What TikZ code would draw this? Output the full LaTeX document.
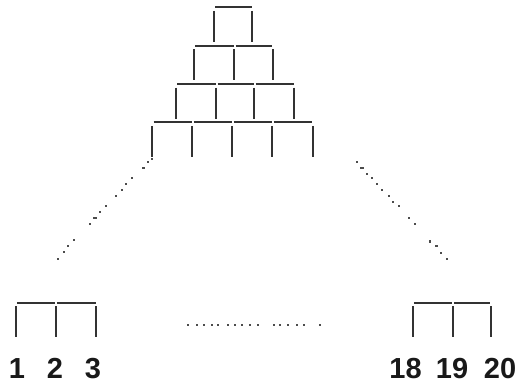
\documentclass[tikz,border=0pt]{standalone}
\usepackage{fontspec}
\setmainfont{Liberation Sans}
\begin{document}
\begin{tikzpicture}[x=1pt,y=-1pt,
  bar/.style={line width=2pt,draw=black!80},
  dotmark/.style={fill=black!70},
  lbl/.style={font=\fontsize{29}{29}\selectfont\bfseries,anchor=base,inner sep=0pt,text=black!90}]
\useasboundingbox (0,0) rectangle (518,383);
% pyramid rows: horizontal y, list of vertical x positions
\foreach \h/\xs in {7.3/{214,252.3},45.7/{194,234.3,272.7},84/{176,216.3,254.3,294.3},122.3/{152.3,192.3,232.3,272.3,312.7},302.7/{15.7,55.7,96.3},302.7/{412.7,452.7,490.7}}{
  \foreach \x [count=\i, remember=\x as \px (initially none)] in \xs {
    \draw[bar] (\x,\h+3.5) -- (\x,\h+34.5);
    \ifnum\i>1 \draw[bar] (\px+1.2,\h) -- (\x-0.8,\h); \fi
  }
}
% dotted connectors
\foreach \p in {(148.3,162.3),(142.5,168.3),(144.2,168.3),(132,178.3),(126.3,184.3),(122,190.3),(116.3,196.3),(106,206.3),(100,212.3),(94,218.3),(95.6,218.3),(90,224.3),(74,240.3),(68.3,246.3),(64,252.3),(58,258.7),(152.3,159),
  (356.7,161.7),(361,168.3),(362.7,168.3),(366.7,174.3),(372.3,178.3),(376.7,184.3),(382.3,190.3),(388.7,196.3),(392.7,202.3),(398.7,206.3),(408.7,218.3),(414.7,224.3),(430.3,240.5),(430.3,242.2),(435.5,246.3),(437,246.3),(440.7,252.7),(446.7,258.7),
  (188.3,325),(196.7,325),(204.3,325),(212.3,325),(218.3,325),(228.3,325),(235,325),(242.3,325),(250,325),(258.3,325),(274.3,325),(280,325),(288.3,325),(296.7,325),(304.3,325),(320,325)}{
  \fill[dotmark] \p ++(-1,-1) rectangle ++(2,2);
}
\node[lbl] (n1) at (17,378) {1};
\node[lbl] (n2) at (55,378) {2};
\node[lbl] (n3) at (93,378) {3};
\node[lbl] (n18) at (405.5,378) {18};
\node[lbl] (n19) at (452,378) {19};
\node[lbl] (n20) at (500,378) {20};
\end{tikzpicture}
\end{document}
